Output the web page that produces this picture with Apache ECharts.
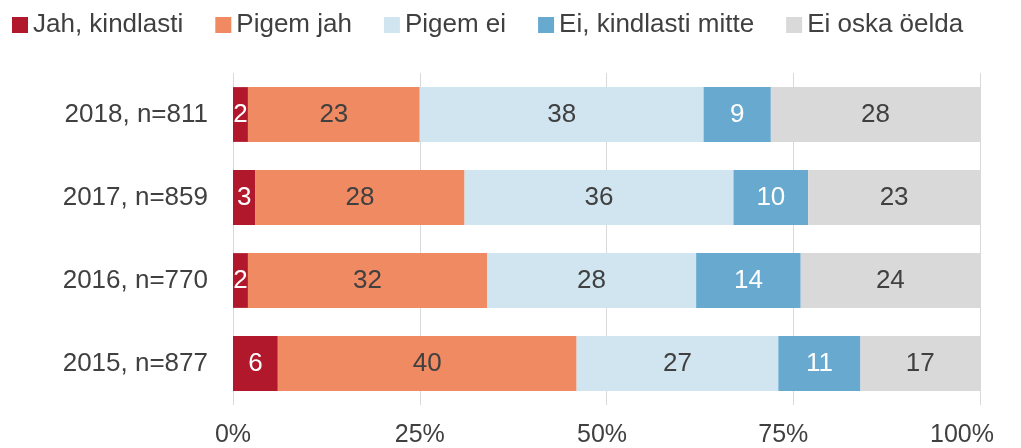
<!DOCTYPE html>
<html>
<head>
<meta charset="utf-8">
<script src="https://cdn.jsdelivr.net/npm/echarts@6/dist/echarts.min.js"></script>
<style>
  html, body { margin: 0; padding: 0; background: #fff; }
  #chart { width: 1021px; height: 448px; }
</style>
</head>
<body>
<div id="chart"></div>
<script>
// Survey years with sample sizes (top to bottom)
const categories = ['2018, n=811', '2017, n=859', '2016, n=770', '2015, n=877'];

// Answer shares, %, in the same order as categories
const seriesNames = ['Jah, kindlasti', 'Pigem jah', 'Pigem ei', 'Ei, kindlasti mitte', 'Ei oska öelda'];
const jahKindlasti   = [2, 3, 2, 6];
const pigemJah       = [23, 28, 32, 40];
const pigemEi        = [38, 36, 28, 27];
const eiKindlasti    = [9, 10, 14, 11];
const eiOskaOelda    = [28, 23, 24, 17];

const xTicks = [0, 25, 50, 75, 100];

const colors = ['#B2182B', '#EF8A62', '#D1E5F0', '#67A9CF', '#D9D9D9'];
const labelColors = ['#ffffff', '#404040', '#404040', '#ffffff', '#404040'];
const values = [jahKindlasti, pigemJah, pigemEi, eiKindlasti, eiOskaOelda];

const font = 'Liberation Sans, Arial, sans-serif';

// Tick labels sit slightly left of their gridlines toward the right end
const tickRich = {
  t0:   { fontSize: 25, color: '#404040', padding: [0, 0, 0, 0] },
  t25:  { fontSize: 25, color: '#404040', padding: [0, 0, 0, 0] },
  t50:  { fontSize: 25, color: '#404040', padding: [0, 9, 0, 0] },
  t75:  { fontSize: 25, color: '#404040', padding: [0, 20, 0, 0] },
  t100: { fontSize: 25, color: '#404040', padding: [0, 36, 0, 0] }
};

const chart = echarts.init(document.getElementById('chart'), null, { renderer: 'canvas' });

chart.setOption({
  animation: false,
  textStyle: { fontFamily: font },
  legend: {
    top: 7,
    left: 7,
    itemWidth: 16,
    itemHeight: 16,
    itemGap: 32,
    icon: 'rect',
    textStyle: { fontSize: 26, color: '#404040', fontFamily: font },
    data: seriesNames
  },
  grid: { left: 233, right: 41, top: 73, bottom: 43 },
  xAxis: {
    type: 'value',
    min: 0,
    max: 100,
    interval: 25,
    axisLine: { show: false },
    axisTick: { show: false },
    splitLine: { show: true, lineStyle: { color: '#D9D9D9', width: 1 } },
    axisLabel: {
      fontSize: 25,
      color: '#404040',
      margin: 18,
      rich: tickRich,
      formatter: v => xTicks.includes(v) ? '{t' + v + '|' + v + '%}' : ''
    }
  },
  yAxis: {
    type: 'category',
    data: categories,
    inverse: true,
    axisLine: { show: false },
    axisTick: { show: false },
    axisLabel: { fontSize: 26, color: '#404040', margin: 25 }
  },
  series: values.map((arr, i) => ({
    name: seriesNames[i],
    type: 'bar',
    stack: 'total',
    barWidth: '66%',
    clip: true,
    data: arr,
    itemStyle: { color: colors[i] },
    label: {
      show: true,
      position: 'inside',
      fontSize: 26,
      color: labelColors[i],
      fontFamily: font
    }
  }))
});
</script>
</body>
</html>
